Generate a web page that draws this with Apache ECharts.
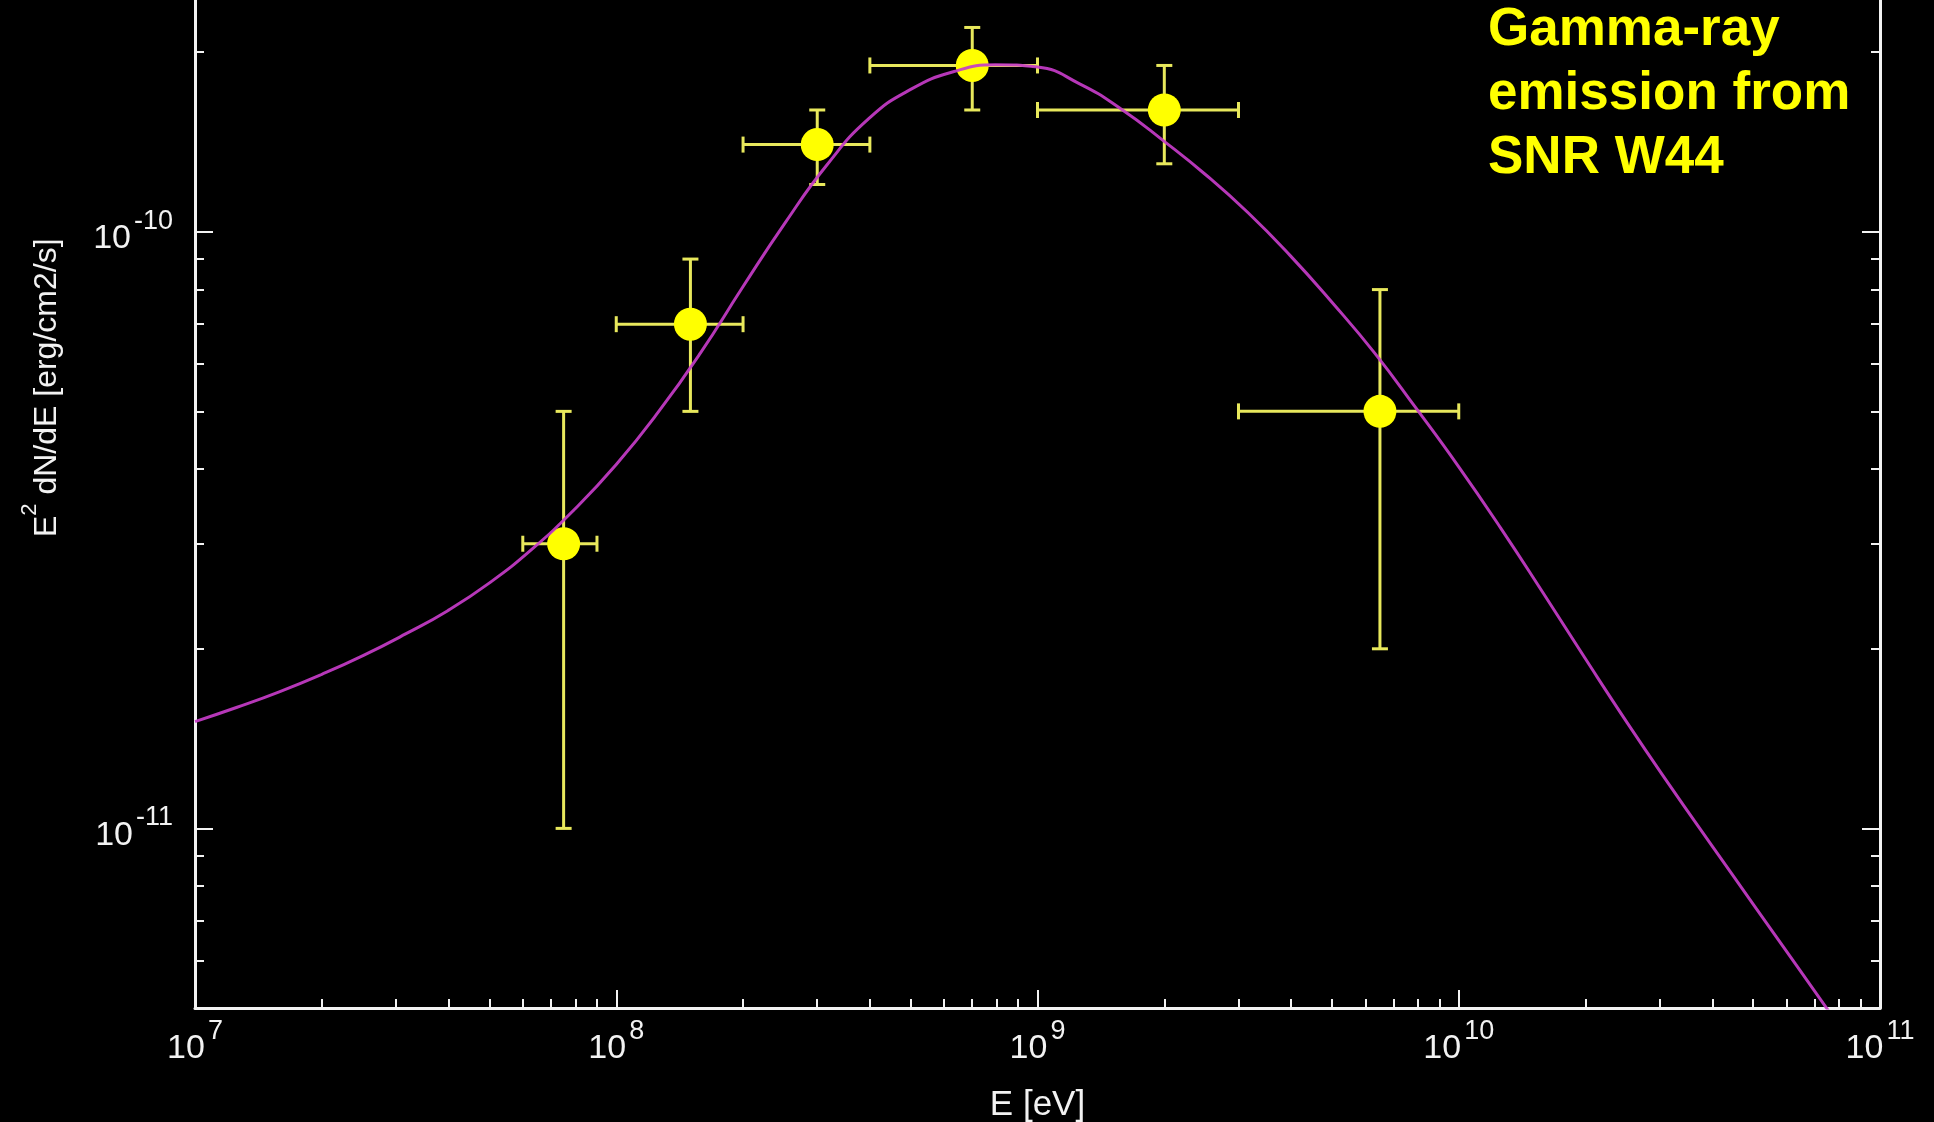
<!DOCTYPE html>
<html>
<head>
<meta charset="utf-8">
<title>Gamma-ray emission from SNR W44</title>
<script src="https://cdn.jsdelivr.net/npm/echarts@6/dist/echarts.min.js"></script>
<style>
  html, body { margin: 0; padding: 0; background: #000; }
  #chart { width: 1934px; height: 1122px; }
</style>
</head>
<body>
<div id="chart"></div>
<script>
// Measured spectral points: bin centre energy [eV], bin edges, E^2 dN/dE and its error range
const pointE   = [7.5e7, 1.5e8, 3.0e8, 7.0e8, 2.0e9, 6.5e9];
const pointElo = [6.0e7, 1.0e8, 2.0e8, 4.0e8, 1.0e9, 3.0e9];
const pointEhi = [9.0e7, 2.0e8, 4.0e8, 1.0e9, 3.0e9, 1.0e10];
const pointF   = [3.0e-11, 7.0e-11, 1.4e-10, 1.9e-10, 1.6e-10, 5.0e-11];
const pointFlo = [1.0e-11, 5.0e-11, 1.2e-10, 1.6e-10, 1.3e-10, 2.0e-11];
const pointFhi = [5.0e-11, 9.0e-11, 1.6e-10, 2.2e-10, 1.9e-10, 8.0e-11];

// Model spectrum, sampled every 0.1 decade in energy
const curveE = [1.000e7, 1.259e7, 1.585e7, 1.995e7, 2.512e7, 3.162e7, 3.981e7, 5.012e7, 6.310e7, 7.943e7,
                1.000e8, 1.259e8, 1.585e8, 1.995e8, 2.512e8, 3.162e8, 3.981e8, 5.012e8, 6.310e8, 7.943e8,
                1.000e9, 1.259e9, 1.585e9, 1.995e9, 2.512e9, 3.162e9, 3.981e9, 5.012e9, 6.310e9, 7.943e9,
                1.000e10, 1.259e10, 1.585e10, 1.995e10, 2.512e10, 3.162e10, 3.981e10, 5.012e10, 6.310e10, 7.943e10];
const curveF = [1.510e-11, 1.596e-11, 1.694e-11, 1.811e-11, 1.950e-11, 2.118e-11, 2.317e-11, 2.582e-11, 2.938e-11, 3.420e-11,
                4.074e-11, 4.989e-11, 6.266e-11, 8.072e-11, 1.033e-10, 1.294e-10, 1.549e-10, 1.734e-10, 1.854e-10, 1.905e-10,
                1.888e-10, 1.770e-10, 1.603e-10, 1.419e-10, 1.245e-10, 1.076e-10, 9.120e-11, 7.603e-11, 6.266e-11, 5.047e-11,
                4.036e-11, 3.184e-11, 2.483e-11, 1.928e-11, 1.503e-11, 1.183e-11, 9.376e-12, 7.447e-12, 5.916e-12, 4.699e-12];

// Axis ranges and decade positions
const xRange = [1e7, 1e11];
const yRange = [5e-12, 6e-10];
const xDecades = [1e7, 1e8, 1e9, 1e10, 1e11];
const yDecades = [1e-12, 1e-11, 1e-10, 1e-9];

const xTitle = 'E [eV]';
const yTitle = '{b|E}{s|2}{b| dN/dE [erg/cm2/s]}';
const note = 'Gamma-ray\nemission from\nSNR W44';

// 2..9 x 10^n minor tick positions inside a range
function minorTicks(decades, range) {
  const out = [];
  decades.forEach(function (d) {
    for (let k = 2; k <= 9; k++) {
      const v = k * d;
      if (v > range[0] * 1.0001 && v < range[1] * 0.9999) out.push(v);
    }
  });
  return out;
}

const FONT = '"Liberation Sans", Arial, Helvetica, sans-serif';
const AXIS = '#f2f2f2';
const MAGENTA = '#c63cc8';
const YELLOW = '#ffff00';
const BAR = '#e8e85c';

// "10" with a raised exponent
const labelRich = {
  b: { fontSize: 34, fontFamily: FONT, color: AXIS, lineHeight: 48, verticalAlign: 'bottom' },
  s: { fontSize: 27, fontFamily: FONT, color: AXIS, verticalAlign: 'top', padding: [0, 0, 0, 3] }
};

function powLabel(v) {
  const p = Math.log10(v);
  const n = Math.round(p);
  if (Math.abs(p - n) > 1e-6) return '';
  return '{b|10}{s|' + (n < 0 ? '-' + (-n) : n) + '}';
}

const tickLine = { color: AXIS, width: 2 };
const frameLine = { show: true, onZero: false, lineStyle: { color: AXIS, width: 3 } };

function minorAxis(extra, range, values) {
  return Object.assign({
    type: 'log', logBase: 10, min: range[0], max: range[1],
    axisLine: { show: false },
    axisTick: { show: true, inside: true, length: 9, customValues: values, lineStyle: tickLine },
    axisLabel: { show: false },
    splitLine: { show: false }
  }, extra);
}

const chart = echarts.init(document.getElementById('chart'), null, { renderer: 'canvas' });

const errData = pointE.map(function (e, i) {
  return [e, pointF[i], pointElo[i], pointEhi[i], pointFlo[i], pointFhi[i]];
});

chart.setOption({
  backgroundColor: '#000000',
  animation: false,
  grid: {
    left: 195, right: 54, top: -232.5, bottom: 114,
    outerBoundsMode: 'none', containLabel: false
  },
  xAxis: [
    {
      type: 'log', logBase: 10, min: xRange[0], max: xRange[1], position: 'bottom',
      axisLine: frameLine,
      axisTick: { show: true, inside: true, length: 18, lineStyle: tickLine },
      axisLabel: { show: true, margin: 10, formatter: powLabel, rich: labelRich },
      splitLine: { show: false },
      name: xTitle, nameLocation: 'middle', nameGap: 80,
      nameTextStyle: { color: AXIS, fontSize: 35, fontFamily: FONT }
    },
    minorAxis({ position: 'bottom' }, xRange, minorTicks(xDecades, xRange))
  ],
  yAxis: [
    {
      type: 'log', logBase: 10, min: yRange[0], max: yRange[1], position: 'left',
      axisLine: frameLine,
      axisTick: { show: true, inside: true, length: 18, lineStyle: tickLine },
      axisLabel: { show: true, margin: 22, formatter: powLabel, rich: labelRich,
                   showMinLabel: false, showMaxLabel: false },
      splitLine: { show: false },
      name: yTitle, nameLocation: 'middle', nameGap: 132, nameRotate: 90,
      nameTextStyle: {
        rich: {
          b: { fontSize: 32, fontFamily: FONT, color: AXIS, lineHeight: 44, verticalAlign: 'bottom' },
          s: { fontSize: 22, fontFamily: FONT, color: AXIS, verticalAlign: 'top' }
        }
      }
    },
    minorAxis({ position: 'left' }, yRange, minorTicks(yDecades, yRange)),
    {
      type: 'log', logBase: 10, min: yRange[0], max: yRange[1], position: 'right',
      axisLine: frameLine,
      axisTick: { show: true, inside: true, length: 18, lineStyle: tickLine },
      axisLabel: { show: false },
      splitLine: { show: false }
    },
    minorAxis({ position: 'right' }, yRange, minorTicks(yDecades, yRange))
  ],
  series: [
    {
      name: 'errors',
      type: 'custom',
      xAxisIndex: 0, yAxisIndex: 0,
      clip: true,
      z: 2,
      encode: { x: [0, 2, 3], y: [1, 4, 5] },
      data: errData,
      renderItem: function (params, api) {
        const x = api.value(0), y = api.value(1);
        const l = api.coord([api.value(2), y]);
        const r = api.coord([api.value(3), y]);
        const b = api.coord([x, api.value(4)]);
        const t = api.coord([x, api.value(5)]);
        const cap = 8;
        const style = { stroke: BAR, lineWidth: 3, fill: null };
        const seg = function (x1, y1, x2, y2) {
          return { type: 'line', shape: { x1: x1, y1: y1, x2: x2, y2: y2 }, style: style };
        };
        return {
          type: 'group',
          children: [
            seg(l[0], l[1], r[0], r[1]),
            seg(l[0], l[1] - cap, l[0], l[1] + cap),
            seg(r[0], r[1] - cap, r[0], r[1] + cap),
            seg(b[0], b[1], t[0], t[1]),
            seg(b[0] - cap, b[1], b[0] + cap, b[1]),
            seg(t[0] - cap, t[1], t[0] + cap, t[1])
          ]
        };
      }
    },
    {
      name: 'points',
      type: 'scatter',
      xAxisIndex: 0, yAxisIndex: 0,
      z: 3,
      symbol: 'circle',
      symbolSize: 33,
      itemStyle: { color: YELLOW, opacity: 1 },
      data: pointE.map(function (e, i) { return [e, pointF[i]]; })
    },
    {
      name: 'model',
      type: 'line',
      xAxisIndex: 0, yAxisIndex: 0,
      z: 4,
      clip: true,
      smooth: 0.5,
      showSymbol: false,
      symbol: 'none',
      lineStyle: { color: MAGENTA, width: 3, opacity: 0.92 },
      data: curveE.map(function (e, i) { return [e, curveF[i]]; })
    }
  ],
  graphic: [
    {
      type: 'text',
      left: 1488, top: -2,
      z: 10,
      style: {
        text: note,
        fill: YELLOW,
        font: 'bold 53px ' + FONT,
        lineHeight: 64
      }
    }
  ]
});
</script>
</body>
</html>
